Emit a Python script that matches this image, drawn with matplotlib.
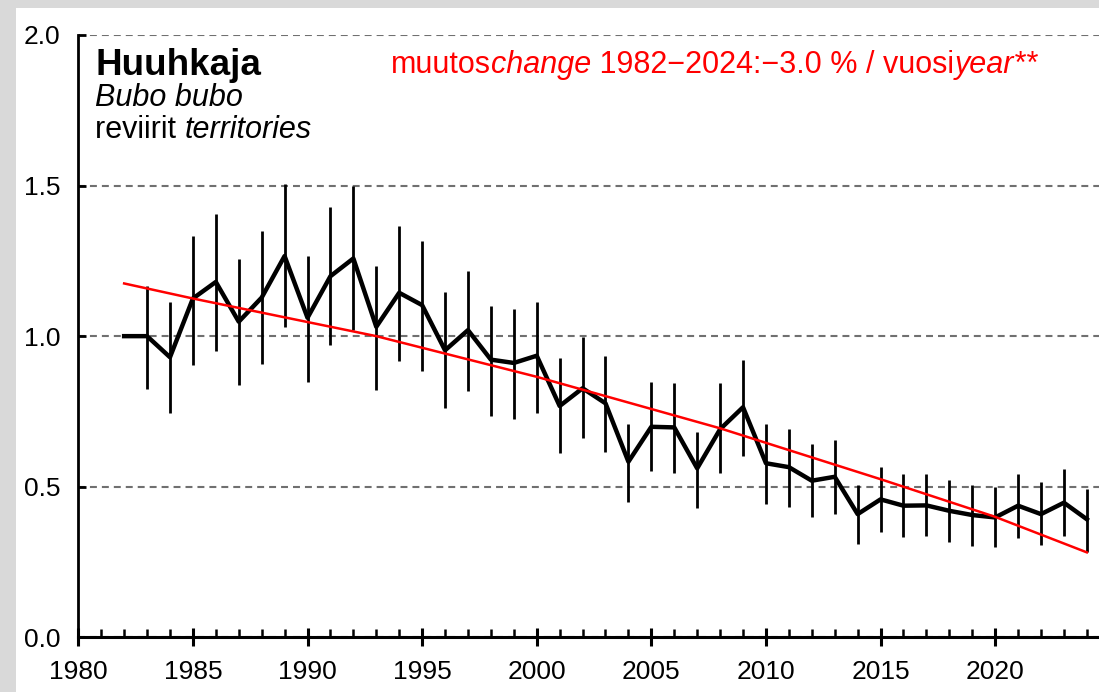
import matplotlib
matplotlib.use('Agg')
import matplotlib.pyplot as plt
from matplotlib.patches import Rectangle
from matplotlib.ticker import MultipleLocator, FormatStrFormatter

plt.rcParams['font.family'] = ['Liberation Sans', 'DejaVu Sans']

# index values (1982 = 1.0)
years = list(range(1982, 2025))
index = [1.00, 1.00, 0.93, 1.125, 1.18, 1.048, 1.128, 1.266, 1.061, 1.199,
         1.258, 1.031, 1.144, 1.103, 0.953, 1.020, 0.922, 0.911, 0.935, 0.768,
         0.827, 0.777, 0.583, 0.699, 0.697, 0.561, 0.691, 0.764, 0.578, 0.565,
         0.520, 0.533, 0.409, 0.458, 0.437, 0.438, 0.420, 0.406, 0.398, 0.437,
         0.409, 0.447, 0.392]

# confidence limits, 1983-2024 (no bar for the base year)
ci_years = list(range(1983, 2025))
ci_upper = [1.166, 1.112, 1.333, 1.405, 1.256, 1.349, 1.505, 1.267, 1.428, 1.500,
            1.234, 1.365, 1.317, 1.145, 1.217, 1.101, 1.090, 1.114, 0.926, 0.998,
            0.935, 0.708, 0.847, 0.846, 0.681, 0.846, 0.921, 0.707, 0.691, 0.641,
            0.655, 0.506, 0.565, 0.542, 0.542, 0.522, 0.506, 0.498, 0.542, 0.515,
            0.559, 0.491]
ci_lower = [0.826, 0.746, 0.904, 0.951, 0.837, 0.907, 1.029, 0.848, 0.970, 1.020,
            0.821, 0.917, 0.885, 0.762, 0.818, 0.735, 0.726, 0.746, 0.611, 0.661,
            0.614, 0.450, 0.552, 0.547, 0.428, 0.545, 0.603, 0.443, 0.434, 0.401,
            0.408, 0.309, 0.351, 0.332, 0.336, 0.315, 0.304, 0.299, 0.329, 0.306,
            0.336, 0.284]

# trend line, read at a few years
trend_years = [1982, 1985, 1993, 2000, 2008, 2015, 2020, 2024]
trend_vals = [1.175, 1.125, 1.00, 0.865, 0.694, 0.525, 0.400, 0.282]

W, H = 1099, 692
fig = plt.figure(figsize=(W / 100, H / 100), dpi=100)
fig.patch.set_facecolor('#d9d9d9')
fig.patches.append(Rectangle((16 / W, 0), 1, 1 - 8 / H, transform=fig.transFigure,
                             facecolor='white', edgecolor='none', zorder=-10))

ax = fig.add_axes([78.3 / W, 1 - 637.3 / H, 1 - 78.3 / W, (637.3 - 35) / H])
ax.set_facecolor('none')
ax.set_xlim(1980, 2024.53)
ax.set_ylim(0, 2.0)

for s in ['top', 'right']:
    ax.spines[s].set_visible(False)
ax.spines['bottom'].set_linewidth(2.2)
ax.spines['left'].set_linewidth(2.0)

ax.xaxis.set_major_locator(MultipleLocator(5))
ax.xaxis.set_minor_locator(MultipleLocator(1))
ax.yaxis.set_major_locator(MultipleLocator(0.5))
ax.yaxis.set_major_formatter(FormatStrFormatter('%.1f'))

ax.tick_params(axis='x', which='major', direction='inout', length=13, width=2.2,
               pad=10, labelsize=19, colors='black')
ax.tick_params(axis='x', which='minor', direction='in', length=6, width=1.8)
ax.tick_params(axis='y', which='major', direction='in', length=6, width=2.0,
               pad=13, labelsize=19)

lw_grid = 1.5
ax.yaxis.grid(True, color='#707070', linewidth=lw_grid,
              linestyle=(0, (5 / lw_grid, 3.6 / lw_grid)))
ax.set_axisbelow(True)

ax.vlines(ci_years, ci_lower, ci_upper, color='black', linewidth=2.0, zorder=3)
ax.plot(years, index, color='black', linewidth=3.2, zorder=4)
ax.plot(trend_years, trend_vals, color='#ff0000', linewidth=1.8, zorder=5)

# titles
fig.text(95 / W, 1 - 75 / H, 'Huuhkaja', fontsize=26.5, fontweight='bold',
         va='baseline')
fig.text(95 / W, 1 - 106 / H, 'Bubo bubo', fontsize=22, style='italic',
         va='baseline')
t = fig.text(95 / W, 1 - 138 / H, 'reviirit ', fontsize=22, va='baseline')
fig.canvas.draw()
ax.annotate('territories', xy=(1, 0), xycoords=t, fontsize=22, style='italic',
            va='bottom', ha='left')

# trend note in red
parts = [('muutos', 'normal'), ('change', 'italic'),
         (' 1982\u22122024:\u22123.0 % / vuosi', 'normal'), ('year**', 'italic')]
prev = fig.text(391 / W, 1 - 73 / H, parts[0][0], fontsize=22, color='#ff0000',
                va='baseline')
for txt, st in parts[1:]:
    prev = ax.annotate(txt, xy=(1, 0), xycoords=prev, fontsize=22, style=st,
                       color='#ff0000', va='bottom', ha='left')

fig.savefig('out.png', dpi=100, facecolor=fig.get_facecolor())
